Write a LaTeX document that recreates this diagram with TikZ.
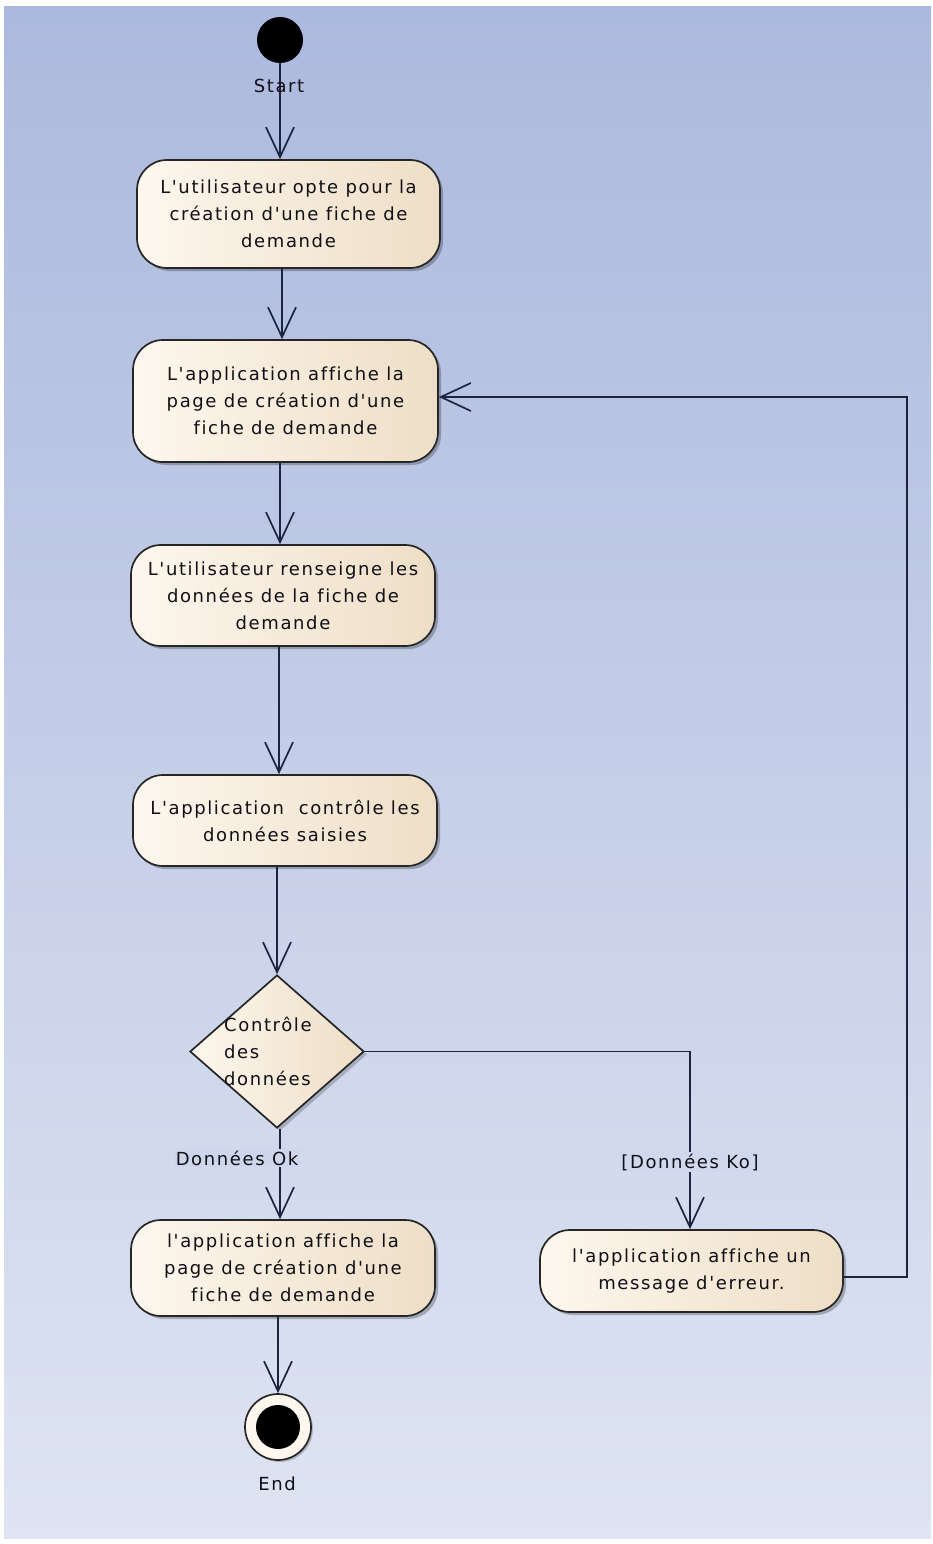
\documentclass[tikz,border=0pt]{standalone}
\usepackage{fontspec}
\newfontfamily\umlfont{DejaVu Sans}[LetterSpace=9,Ligatures={NoCommon}]
\usetikzlibrary{arrows.meta,shapes.geometric,shadows}
\definecolor{bgtop}{RGB}{172,185,222}
\definecolor{bgbot}{RGB}{222,228,242}
\definecolor{cream1}{RGB}{253,247,238}
\definecolor{cream2}{RGB}{238,222,198}
\definecolor{edgec}{RGB}{38,38,38}
\definecolor{wire}{RGB}{28,36,64}
\definecolor{lblbgA}{RGB}{206,214,236}
\definecolor{lblbgB}{RGB}{208,216,237}
\definecolor{txt}{RGB}{16,16,22}
\begin{document}
\begin{tikzpicture}[x=1pt,y=-1pt,
  every node/.style={font=\umlfont\fontsize{18}{27}\selectfont, text=txt},
  action/.style={draw=edgec, line width=1.7pt, rounded corners=30pt,
    left color=cream1, right color=cream2, align=center, inner sep=0pt,
    drop shadow={shadow xshift=3pt,shadow yshift=-3pt,opacity=0.25,fill=black}},
  flow/.style={draw=wire, line width=1.7pt,
    -{Straight Barb[length=30pt,width=28pt,line width=1.7pt]}},
  guard/.style={inner sep=2pt},
]
\useasboundingbox (0,0) rectangle (933,1544);
\fill[white] (0,0) rectangle (933,1544);
\fill[top color=bgtop, bottom color=bgbot] (4,7) rectangle (931,1538);

% start
\node[circle, fill=black, minimum size=46pt, inner sep=0pt] (start) at (280,40) {};

\node[action, minimum width=303pt, minimum height=108pt] (b1) at (288.5,214)
  {L'utilisateur opte pour la\\création d'une fiche de\\demande};
\node[action, minimum width=305pt, minimum height=122pt] (b2) at (285.5,401)
  {L'application affiche la\\page de création d'une\\fiche de demande};
\node[action, minimum width=304pt, minimum height=101pt] (b3) at (283,595.5)
  {L'utilisateur renseigne les\\données de la fiche de\\demande};
\node[action, minimum width=304pt, minimum height=91pt] (b4) at (285,820.5)
  {L'application\ \ contrôle les\\données saisies};
\node[diamond, draw=edgec, line width=1.7pt, minimum width=174pt, minimum height=153pt,
  inner sep=0pt, left color=cream1, right color=cream2,
  drop shadow={shadow xshift=3pt,shadow yshift=-3pt,opacity=0.2,fill=black}] (dec) at (277,1051.5) {};
\node[anchor=west, align=left, inner sep=0pt] (dectxt) at (224,1051)
  {Contrôle\\des\\données};
\node[action, minimum width=304pt, minimum height=96pt] (b5) at (283,1268)
  {l'application affiche la\\page de création d'une\\fiche de demande};
\node[action, minimum width=303pt, minimum height=82pt] (b6) at (691.5,1271)
  {l'application affiche un\\message d'erreur.};

% end
\node[circle, draw=edgec, line width=1.7pt, fill=cream1, minimum size=66pt, inner sep=0pt,
  drop shadow={shadow xshift=2pt,shadow yshift=-2pt,opacity=0.2,fill=black}] (endn) at (278,1427) {};
\node[circle, fill=black, minimum size=44pt, inner sep=0pt] (endin) at (278,1427) {};
\node (endlbl) at (277,1484) {End};

\coordinate (ax1) at (282,0);
\coordinate (ax2) at (280,0);
\coordinate (ax3) at (279,0);
\coordinate (ax5) at (280,0);
\coordinate (rx) at (907,0);
\coordinate (kx) at (690,0);

\draw[flow] (start.south) -- (start |- b1.north);
\draw[flow] (b1.south -| ax1) -- (b2.north -| ax1);
\draw[flow] (b2.south -| ax2) -- (b3.north -| ax2);
\draw[flow] (b3.south -| ax3) -- (b4.north -| ax3);
\draw[flow] (b4.south -| dec) -- (dec.north);
\draw[flow] (dec.south -| ax5) -- (b5.north -| ax5);
\draw[flow] (b5.south -| endn) -- (endn.north);
\draw[flow] (dec.east) -- (dec.east -| kx) -- (b6.north -| kx);
\draw[flow] ([yshift=-6pt]b6.east) -- ([yshift=-6pt]b6.east -| rx) -- ([yshift=4pt]b2.east -| rx) -- ([yshift=4pt]b2.east);

% labels drawn on top so that they interrupt the lines
\node[fill=lblbgA, guard] (oklbl) at (237,1158) {Données Ok};
\node[fill=lblbgB, guard] (kolbl) at (690,1162) {[Données Ko]};
\node (startlbl) at (279,86) {Start};
\end{tikzpicture}
\end{document}
